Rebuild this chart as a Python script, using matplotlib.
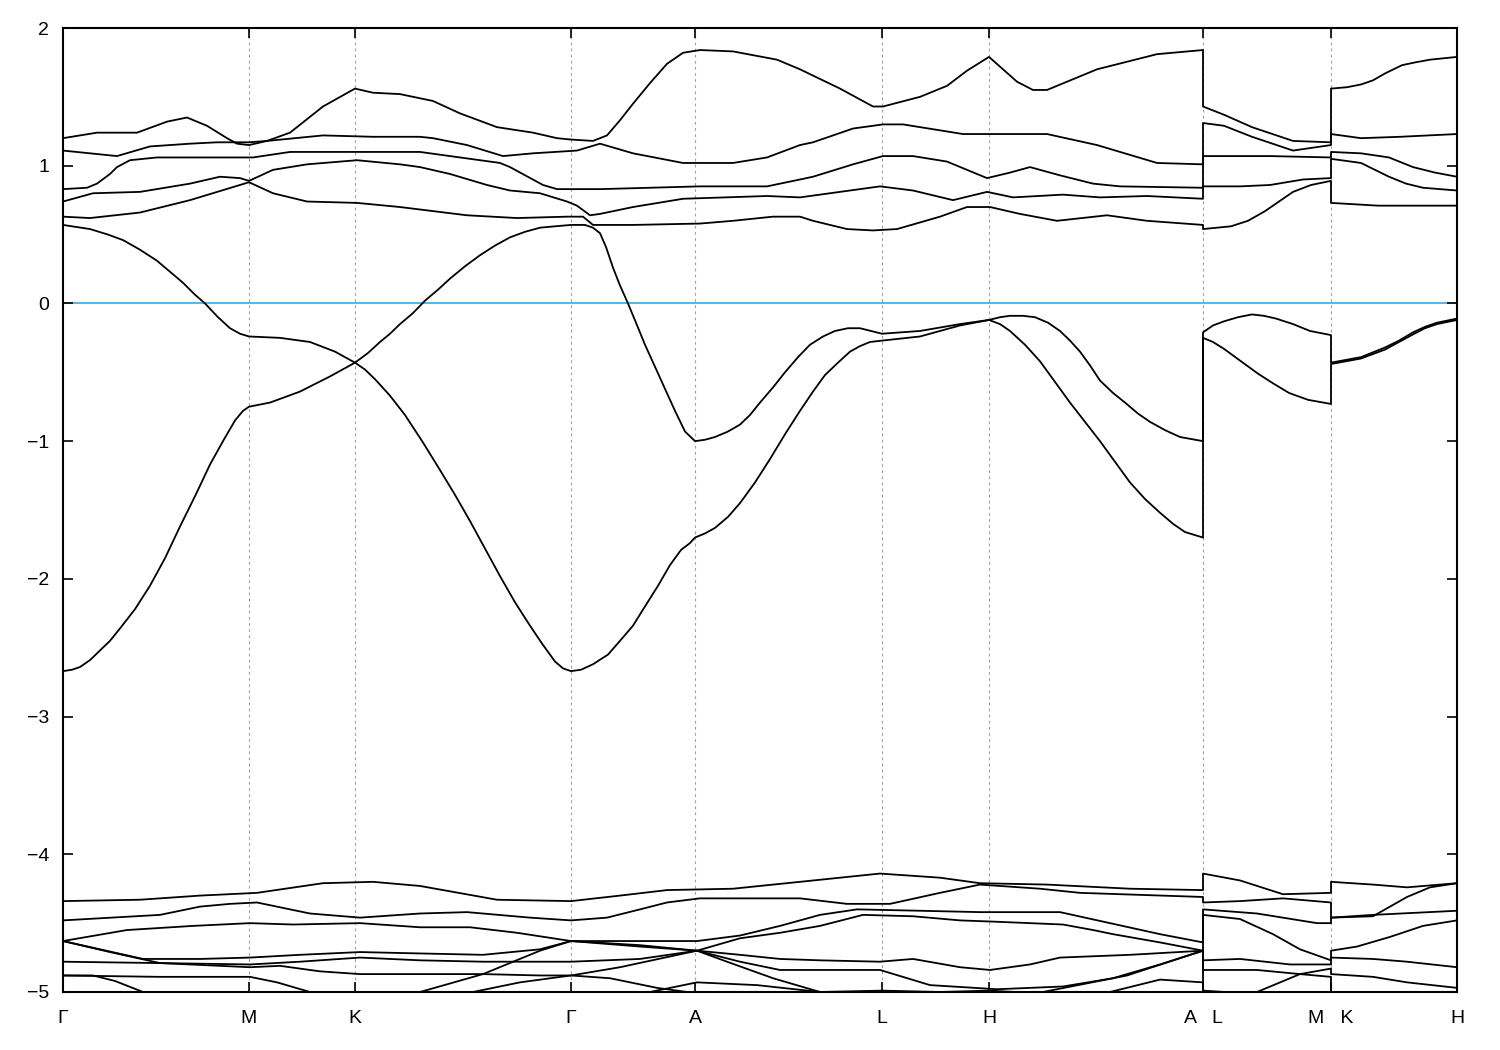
import matplotlib.pyplot as plt

plt.rcParams['font.family'] = ['Liberation Sans', 'DejaVu Sans']

# k-path (path length, arbitrary units) and labels of the high-symmetry points
tick_k = [0, 186, 292, 508, 632, 819, 926, 1140, 1268, 1394]
tick_labels = ["Γ", "M", "K", "Γ", "A", "L", "H", "A   L", "M   K", "H"]

# ---- Γ-M-K-Γ-A-L-H-A ----
main_upper = [
    [(0, 1.20), (34, 1.24), (74, 1.24), (104, 1.32), (124, 1.35), (144, 1.29), (164, 1.20),
     (174, 1.16), (186, 1.15), (204, 1.18), (227, 1.24), (260, 1.43), (292, 1.56), (310, 1.53),
     (337, 1.52), (370, 1.47), (397, 1.38), (434, 1.28), (470, 1.24), (494, 1.20), (508, 1.19),
     (530, 1.18), (544, 1.22), (557, 1.33), (570, 1.45), (587, 1.60), (604, 1.74), (620, 1.82),
     (637, 1.84), (670, 1.83), (714, 1.77), (737, 1.70), (777, 1.56), (810, 1.43), (820, 1.43),
     (857, 1.50), (884, 1.58), (904, 1.69), (926, 1.79), (954, 1.61), (970, 1.55), (984, 1.55),
     (1034, 1.70), (1094, 1.81), (1140, 1.84)],
    [(0, 1.11), (54, 1.07), (87, 1.14), (127, 1.16), (154, 1.17), (186, 1.17), (204, 1.18),
     (260, 1.22), (310, 1.21), (357, 1.21), (370, 1.20), (404, 1.15), (440, 1.07), (470, 1.09),
     (514, 1.11), (537, 1.16), (570, 1.09), (620, 1.02), (670, 1.02), (704, 1.06), (737, 1.15),
     (750, 1.17), (790, 1.27), (820, 1.30), (840, 1.30), (900, 1.23), (927, 1.23), (984, 1.23),
     (1034, 1.15), (1094, 1.02), (1140, 1.01)],
    [(0, 0.83), (24, 0.84), (34, 0.87), (47, 0.94), (54, 0.99), (67, 1.04), (94, 1.06),
     (144, 1.06), (190, 1.06), (227, 1.10), (277, 1.10), (357, 1.10), (437, 1.02), (447, 0.99),
     (480, 0.86), (494, 0.83), (537, 0.83), (637, 0.85), (704, 0.85), (737, 0.90), (750, 0.92),
     (790, 1.01), (820, 1.07), (850, 1.07), (884, 1.03), (924, 0.91), (947, 0.95), (967, 0.99),
     (997, 0.93), (1030, 0.87), (1057, 0.85), (1140, 0.84)],
    [(0, 0.74), (30, 0.80), (77, 0.81), (127, 0.87), (157, 0.92), (177, 0.91), (186, 0.89),
     (210, 0.97), (244, 1.01), (294, 1.04), (337, 1.01), (357, 0.99), (387, 0.94), (424, 0.86),
     (447, 0.82), (477, 0.80), (504, 0.74), (514, 0.71), (527, 0.64), (537, 0.65), (570, 0.70),
     (620, 0.76), (704, 0.78), (737, 0.77), (817, 0.85), (850, 0.82), (890, 0.75), (924, 0.81),
     (950, 0.77), (1000, 0.79), (1037, 0.77), (1084, 0.78), (1140, 0.76)],
    [(0, 0.63), (27, 0.62), (77, 0.66), (127, 0.75), (186, 0.88), (210, 0.80), (244, 0.74),
     (294, 0.73), (337, 0.70), (404, 0.64), (454, 0.62), (504, 0.63), (520, 0.63), (530, 0.57),
     (570, 0.57), (637, 0.58), (670, 0.60), (710, 0.63), (737, 0.63), (750, 0.60), (784, 0.54),
     (810, 0.53), (834, 0.54), (877, 0.63), (904, 0.70), (927, 0.70), (957, 0.65), (994, 0.60),
     (1044, 0.64), (1084, 0.60), (1140, 0.57)],
]

main_cross = [
    [(0, 0.57), (27, 0.54), (45, 0.50), (60, 0.46), (77, 0.39), (94, 0.31), (107, 0.23),
     (120, 0.15), (131, 0.07), (142, 0.0), (155, -0.10), (167, -0.18), (177, -0.22),
     (186, -0.24), (217, -0.25), (247, -0.28), (272, -0.35), (292, -0.43), (302, -0.48),
     (312, -0.55), (327, -0.67), (342, -0.81), (360, -1.01), (377, -1.21), (392, -1.39),
     (407, -1.58), (422, -1.78), (437, -1.98), (452, -2.17), (467, -2.34), (480, -2.48),
     (492, -2.60), (500, -2.65), (508, -2.67), (518, -2.66), (530, -2.62), (545, -2.55),
     (557, -2.45), (570, -2.34), (582, -2.20), (595, -2.05), (607, -1.90), (618, -1.79),
     (627, -1.74), (632, -1.70), (642, -1.67), (652, -1.63), (665, -1.55), (677, -1.45),
     (692, -1.30), (707, -1.13), (722, -0.95), (737, -0.78), (750, -0.64), (762, -0.52),
     (775, -0.43), (787, -0.35), (797, -0.31), (807, -0.28), (819, -0.27), (857, -0.24),
     (897, -0.16), (926, -0.12), (937, -0.15), (947, -0.20), (962, -0.30), (977, -0.42),
     (992, -0.57), (1007, -0.72), (1022, -0.86), (1037, -1.00), (1052, -1.15), (1067, -1.30),
     (1082, -1.42), (1097, -1.52), (1110, -1.60), (1122, -1.66), (1140, -1.70)],
    [(0, -2.67), (9, -2.66), (17, -2.64), (27, -2.59), (37, -2.52), (47, -2.45), (57, -2.36),
     (72, -2.22), (87, -2.05), (102, -1.85), (117, -1.62), (132, -1.40), (147, -1.17),
     (160, -1.00), (172, -0.85), (180, -0.78), (186, -0.75), (207, -0.72), (237, -0.64),
     (267, -0.53), (292, -0.43), (305, -0.36), (317, -0.28), (327, -0.22), (337, -0.15),
     (350, -0.07), (362, 0.02), (375, 0.10), (387, 0.18), (402, 0.27), (417, 0.35),
     (432, 0.42), (447, 0.48), (462, 0.52), (477, 0.55), (492, 0.56), (508, 0.57), (522, 0.57),
     (530, 0.55), (537, 0.51), (543, 0.41), (550, 0.26), (557, 0.13), (565, 0.0), (573, -0.14),
     (582, -0.30), (592, -0.46), (602, -0.62), (612, -0.78), (622, -0.93), (632, -1.00),
     (642, -0.99), (652, -0.97), (665, -0.93), (677, -0.88), (687, -0.81), (697, -0.72),
     (710, -0.61), (722, -0.50), (735, -0.39), (747, -0.30), (760, -0.24), (772, -0.20),
     (785, -0.18), (797, -0.18), (808, -0.20), (819, -0.22), (857, -0.20), (897, -0.15),
     (926, -0.12), (937, -0.10), (947, -0.09), (960, -0.09), (972, -0.10), (985, -0.14),
     (997, -0.20), (1007, -0.27), (1017, -0.35), (1027, -0.45), (1037, -0.56), (1050, -0.65),
     (1062, -0.72), (1075, -0.80), (1087, -0.86), (1102, -0.92), (1117, -0.97), (1140, -1.00)],
]

main_low = [
    [(0, -4.34), (77, -4.33), (137, -4.30), (194, -4.28), (260, -4.21), (310, -4.20), (357, -4.23),
     (434, -4.33), (508, -4.34), (557, -4.30), (604, -4.26), (670, -4.25), (737, -4.20),
     (817, -4.14), (877, -4.17), (917, -4.21), (984, -4.22), (1067, -4.25), (1140, -4.26)],
    [(0, -4.48), (97, -4.44), (137, -4.38), (167, -4.36), (194, -4.35), (227, -4.40), (247, -4.43),
     (297, -4.46), (357, -4.43), (404, -4.42), (467, -4.46), (508, -4.48), (544, -4.46),
     (577, -4.40), (604, -4.35), (637, -4.32), (737, -4.32), (784, -4.36), (827, -4.36),
     (877, -4.28), (917, -4.22), (977, -4.25), (1017, -4.28), (1140, -4.31)],
    [(0, -4.63), (64, -4.55), (130, -4.52), (187, -4.50), (230, -4.51), (297, -4.50), (357, -4.53),
     (407, -4.53), (454, -4.57), (508, -4.63), (577, -4.63), (634, -4.63), (677, -4.59),
     (717, -4.52), (757, -4.44), (794, -4.40), (857, -4.41), (917, -4.42), (997, -4.42),
     (1047, -4.50), (1097, -4.58), (1140, -4.64)],
    [(0, -4.63), (37, -4.69), (80, -4.76), (137, -4.76), (187, -4.75), (237, -4.73), (297, -4.71),
     (357, -4.72), (420, -4.73), (477, -4.69), (508, -4.63), (577, -4.66), (634, -4.70),
     (677, -4.73), (717, -4.76), (757, -4.77), (817, -4.78), (850, -4.76), (897, -4.82),
     (927, -4.84), (967, -4.80), (997, -4.75), (1067, -4.73), (1140, -4.70)],
    [(0, -4.63), (47, -4.71), (97, -4.79), (187, -4.80), (237, -4.78), (297, -4.75), (357, -4.77),
     (420, -4.78), (477, -4.78), (508, -4.78), (577, -4.76), (634, -4.70), (677, -4.61),
     (717, -4.57), (757, -4.52), (800, -4.44), (850, -4.45), (897, -4.48), (934, -4.49),
     (1000, -4.51), (1030, -4.55), (1050, -4.58), (1097, -4.64), (1140, -4.70)],
    [(0, -4.78), (97, -4.79), (187, -4.82), (217, -4.81), (257, -4.85), (297, -4.87), (357, -4.87),
     (420, -4.87), (477, -4.88), (508, -4.88), (547, -4.90), (594, -4.97), (634, -5.01),
     (677, -5.06), (737, -5.10), (937, -5.10), (980, -5.00), (1064, -4.88), (1140, -4.70)],
    [(0, -4.88), (30, -4.88), (52, -4.92), (80, -5.00), (117, -5.08), (237, -5.12), (317, -5.06),
     (357, -5.00), (420, -4.87), (477, -4.70), (508, -4.63), (577, -4.67), (634, -4.70),
     (664, -4.78), (710, -4.90), (757, -5.00), (797, -5.06), (937, -5.10), (1017, -5.06),
     (1047, -5.00), (1097, -4.91), (1140, -4.93)],
    [(0, -4.88), (97, -4.89), (187, -4.89), (214, -4.93), (247, -5.00), (277, -5.05), (357, -5.07),
     (410, -5.00), (457, -4.93), (508, -4.88), (557, -4.82), (634, -4.70), (677, -4.78),
     (717, -4.84), (817, -4.84), (867, -4.95), (934, -4.98), (1000, -4.96), (1050, -4.90),
     (1097, -4.80), (1140, -4.70)],
    [(0, -5.15), (537, -5.10), (587, -5.00), (634, -4.93), (694, -4.95), (757, -5.00), (819, -4.99),
     (877, -5.00), (926, -4.99), (977, -5.01), (1037, -5.04), (1140, -5.06)],
]

# ---- L-M ----
lm_upper = [
    [(1140, 1.43), (1161, 1.37), (1189, 1.28), (1230, 1.18), (1268, 1.17)],
    [(1140, 1.31), (1161, 1.29), (1189, 1.21), (1230, 1.11), (1268, 1.15)],
    [(1140, 1.07), (1207, 1.07), (1268, 1.06)],
    [(1140, 0.85), (1177, 0.85), (1207, 0.86), (1240, 0.90), (1268, 0.91)],
    [(1140, 0.54), (1168, 0.56), (1185, 0.60), (1202, 0.67), (1216, 0.74), (1230, 0.81),
     (1248, 0.86), (1268, 0.89)],
]
lm_cross = [
    [(1140, -0.21), (1150, -0.16), (1161, -0.13), (1175, -0.10), (1189, -0.08), (1201, -0.09),
     (1213, -0.11), (1230, -0.15), (1247, -0.20), (1268, -0.23)],
    [(1140, -0.25), (1150, -0.28), (1161, -0.33), (1178, -0.42), (1195, -0.51), (1210, -0.58),
     (1226, -0.65), (1245, -0.70), (1268, -0.73)],
]
lm_low = [
    [(1140, -4.14), (1177, -4.19), (1220, -4.29), (1268, -4.28)],
    [(1140, -4.35), (1177, -4.34), (1220, -4.32), (1268, -4.35)],
    [(1140, -4.40), (1194, -4.43), (1254, -4.50), (1268, -4.50)],
    [(1140, -4.44), (1177, -4.47), (1210, -4.58), (1237, -4.69), (1268, -4.77)],
    [(1140, -4.77), (1177, -4.76), (1227, -4.80), (1268, -4.80)],
    [(1140, -4.84), (1194, -4.84), (1237, -4.87), (1268, -4.89)],
    [(1140, -5.12), (1177, -5.06), (1194, -5.00), (1237, -4.87), (1268, -4.83)],
    [(1140, -4.99), (1162, -5.00), (1187, -5.06), (1268, -5.10)],
    [(1140, -5.20), (1268, -5.20)],
]

# ---- K-H ----
kh_upper = [
    [(1268, 1.56), (1284, 1.57), (1298, 1.59), (1310, 1.62), (1322, 1.67), (1339, 1.73),
     (1352, 1.75), (1367, 1.77), (1394, 1.79)],
    [(1268, 1.23), (1298, 1.20), (1337, 1.21), (1394, 1.23)],
    [(1268, 1.10), (1298, 1.09), (1326, 1.06), (1350, 0.99), (1372, 0.95), (1394, 0.92)],
    [(1268, 1.05), (1298, 1.02), (1312, 0.97), (1326, 0.92), (1343, 0.87), (1360, 0.84),
     (1394, 0.82)],
    [(1268, 0.73), (1315, 0.71), (1394, 0.71)],
]
kh_cross = [
    [(1268, -0.43), (1298, -0.39), (1322, -0.32), (1336, -0.27), (1350, -0.21), (1362, -0.17),
     (1374, -0.14), (1394, -0.11)],
    [(1268, -0.44), (1298, -0.40), (1322, -0.335), (1336, -0.28), (1350, -0.225), (1362, -0.18),
     (1374, -0.15), (1394, -0.12)],
]
kh_low = [
    [(1268, -4.20), (1310, -4.22), (1344, -4.24), (1394, -4.21)],
    [(1268, -4.46), (1310, -4.45), (1344, -4.31), (1367, -4.24), (1394, -4.21)],
    [(1268, -4.46), (1310, -4.44), (1394, -4.41)],
    [(1268, -4.70), (1294, -4.67), (1327, -4.60), (1360, -4.52), (1394, -4.48)],
    [(1268, -4.75), (1310, -4.76), (1344, -4.78), (1394, -4.82)],
    [(1268, -4.87), (1310, -4.89), (1344, -4.93), (1394, -4.97)],
    [(1268, -5.05), (1394, -5.10)],
    [(1268, -5.15), (1394, -5.15)],
    [(1268, -5.20), (1394, -5.20)],
]

segments = [main_upper + main_cross + main_low,
            lm_upper + lm_cross + lm_low,
            kh_upper + kh_cross + kh_low]


def order_at(bands, idx):
    # band indices sorted by energy (descending) at the first/last point
    return sorted(range(len(bands)), key=lambda i: -bands[i][idx][1])


# join the pieces band index by band index (energy order), like the
# band file does across the path breaks
bands = []
for b in range(len(segments[0])):
    pts = list(segments[0][b])
    cur_seg, cur = segments[0], b
    for nxt in segments[1:]:
        r = order_at(cur_seg, -1).index(cur)
        cur = order_at(nxt, 0)[r]
        cur_seg = nxt
        pts += nxt[cur]
    bands.append(pts)

fig = plt.figure(figsize=(15, 10.5), dpi=100)
ax = fig.add_axes([63 / 1500, 1 - 992 / 1050, 1394 / 1500, 964 / 1050])

for k in tick_k[1:-1]:
    ax.axvline(k, color='#a0a0a0', lw=0.8, ls=(0, (2.5, 3)), zorder=0)

ax.axhline(0, color='#56b4e9', lw=1.4, zorder=1)

for pts in bands:
    ks = [p[0] for p in pts]
    es = [p[1] for p in pts]
    ax.plot(ks, es, color='black', lw=1.3, zorder=2)

ax.set_xlim(tick_k[0], tick_k[-1])
ax.set_ylim(-5, 2)
ax.set_xticks(tick_k)
ax.set_xticklabels(tick_labels)
ax.set_yticks(range(-5, 3))
ax.tick_params(direction='in', length=7, width=1.2, top=True, right=True,
               labelsize=14, colors='black')
ax.tick_params(axis='x', pad=13)
ax.tick_params(axis='y', pad=10)
for s in ax.spines.values():
    s.set_linewidth(1.5)

plt.savefig('out.png', dpi=100)
